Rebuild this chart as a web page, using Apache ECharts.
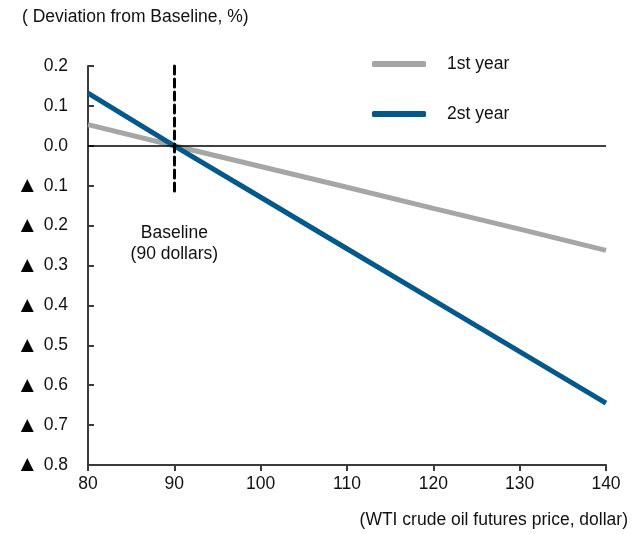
<!DOCTYPE html>
<html><head><meta charset="utf-8">
<script src="https://cdn.jsdelivr.net/npm/echarts@6/dist/echarts.min.js"></script>
<style>html,body{margin:0;padding:0;background:#fff}#c{width:641px;height:534px}</style>
</head><body><div id="c"></div>
<script>
const prices = [80, 90, 100, 110, 120, 130, 140];
const firstYear = [0.053, 0, -0.052, -0.104, -0.157, -0.209, -0.262];
const secondYear = [0.132, 0, -0.129, -0.258, -0.387, -0.516, -0.645];
const seriesNames = ['1st year', '2st year'];
const baselinePrice = 90;
const baselineSpan = [0.2, -0.125];
const baselineLabel = 'Baseline\n(90 dollars)';
const yTitle = '( Deviation from Baseline, %)';
const xTitle = '(WTI crude oil futures price, dollar)';

const font = '"Liberation Sans", Arial, sans-serif';
const fs = 17.5;
const chart = echarts.init(document.getElementById('c'));
chart.setOption({
  animation: false,
  textStyle: {fontFamily: font},
  grid: {left: 88, right: 35, top: 66, bottom: 69},
  legend: {
    orient: 'vertical', left: 367, top: 50,
    itemWidth: 54, itemHeight: 6, itemGap: 32,
    icon: 'roundRect',
    textStyle: {fontSize: fs, color: '#111', fontFamily: font, padding: [0, 0, 0, 16]},
    data: seriesNames
  },
  graphic: [
    {type: 'text', left: 22, top: 8, style: {text: yTitle, font: fs + 'px ' + font, fill: '#111'}},
    {type: 'text', right: 13, top: 511, style: {text: xTitle, font: fs + 'px ' + font, fill: '#111'}}
  ],
  xAxis: {
    type: 'value', min: 80, max: 140, interval: 10,
    axisLine: {onZero: false, lineStyle: {color: '#3a3a3a', width: 2}},
    axisTick: {show: true, inside: false, length: 6, lineStyle: {color: '#3a3a3a', width: 2}},
    axisLabel: {fontSize: fs, color: '#111', margin: 10, fontFamily: font},
    splitLine: {show: false}
  },
  yAxis: {
    type: 'value', min: -0.8, max: 0.2, interval: 0.1,
    axisLine: {show: true, onZero: false, lineStyle: {color: '#3a3a3a', width: 2}},
    axisTick: {show: true, inside: true, length: 6, lineStyle: {color: '#3a3a3a', width: 2}},
    axisLabel: {
      fontSize: fs, color: '#111', margin: 20, fontFamily: font,
      formatter: v => {
        const r = Math.round(v * 10) / 10;
        return r < 0 ? '{t|\u25B2}  ' + Math.abs(r).toFixed(1) : r.toFixed(1);
      },
      rich: {t: {fontSize: 17, fontFamily: '"DejaVu Sans", sans-serif', color: '#000'}}
    },
    splitLine: {show: false}
  },
  series: [
    {
      name: seriesNames[0], type: 'line', symbol: 'none',
      data: prices.map((p, i) => [p, firstYear[i]]),
      lineStyle: {color: '#a6a6a6', width: 5},
      itemStyle: {color: '#a6a6a6'}, z: 3
    },
    {
      name: seriesNames[1], type: 'line', symbol: 'none',
      data: prices.map((p, i) => [p, secondYear[i]]),
      lineStyle: {color: '#03588c', width: 5},
      itemStyle: {color: '#03588c'}, z: 4,
      markLine: {
        silent: true, symbol: 'none', z: 5,
        label: {show: false},
        data: [
          {yAxis: 0, lineStyle: {color: '#000', width: 1.5, type: 'solid'}},
          [
            {coord: [baselinePrice, baselineSpan[0]], lineStyle: {color: '#000', width: 3, type: [8, 5], cap: 'round'}},
            {coord: [baselinePrice, baselineSpan[1]]}
          ]
        ]
      },
      markPoint: {
        silent: true, symbol: 'circle', symbolSize: 0,
        data: [{
          coord: [baselinePrice, -0.245],
          label: {show: true, formatter: baselineLabel, fontSize: fs, color: '#111', lineHeight: 21, fontFamily: font, align: 'center'}
        }]
      }
    }
  ]
});
</script></body></html>
